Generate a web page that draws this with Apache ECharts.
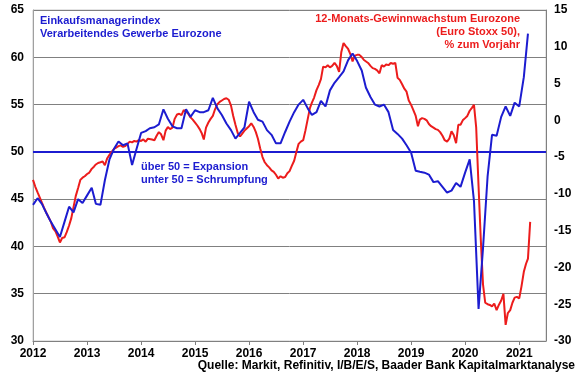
<!DOCTYPE html>
<html>
<head>
<meta charset="utf-8">
<script src="https://cdn.jsdelivr.net/npm/echarts@6/dist/echarts.min.js"></script>
<style>
html,body{margin:0;padding:0;background:#fff;}
#chart{width:580px;height:375px;}
</style>
</head>
<body>
<div id="chart"></div>
<script>
// ---- Data ----
// Eurozone manufacturing PMI, monthly, starting Jan 2012 (left axis)
const pmiStart = [2012, 1];
const pmiValues = [
  44.4,45.1,44.5,43.5,42.6,41.8,41.0,42.6,44.2,43.6,45.0,44.6,
  45.4,46.2,44.5,44.4,47.0,49.2,50.3,51.1,50.7,50.9,48.6,50.3,
  52.0,52.2,52.5,52.6,52.9,54.5,53.5,52.7,52.5,52.5,54.5,53.7,
  54.4,54.2,54.2,54.4,55.7,54.6,53.9,53.0,52.3,51.4,52.0,52.6,
  55.3,54.2,53.4,53.2,52.3,51.8,50.9,50.9,52.1,53.2,54.2,55.0,
  55.5,54.6,53.9,54.2,55.4,54.8,56.5,57.3,57.9,58.5,59.7,60.4,
  59.6,58.6,56.8,55.8,55.0,54.8,55.0,54.2,52.3,51.9,51.4,50.7,
  49.9,48.0,47.9,47.8,47.6,46.8,46.9,46.3,45.7,45.9,46.7,46.3,
  47.8,49.2,44.8,33.4,39.8,47.4,51.8,51.7,53.7,54.8,53.8,55.2,
  54.8,57.9,62.5
];
// 12-month earnings growth Euro Stoxx 50, % y/y, semi-monthly from Jan 2012 (right axis)
const earnStart = [2012, 1];
const earnValues = [
  -8.1,-9.0,-9.8,-10.5,-11.2,-11.9,-12.6,-13.2,-13.8,-14.7,-15.1,-15.8,
  -16.6,-16.0,-15.9,-15.2,-14.3,-13.3,-11.8,-10.3,-9.2,-8.1,-7.8,-7.6,
  -7.3,-7.1,-6.6,-6.3,-6.0,-5.8,-5.7,-5.6,-6.1,-5.2,-4.7,-4.3,
  -3.9,-3.7,-3.5,-3.4,-3.6,-3.5,-3.2,-2.9,-3.0,-2.8,-2.9,-2.7,
  -2.8,-2.6,-2.9,-2.5,-2.4,-2.6,-2.7,-2.1,-1.6,-1.9,-2.7,-1.4,
  -0.9,-1.2,-1.0,0.2,0.8,0.9,0.7,1.4,1.2,0.9,0.4,0.1,
  -0.3,-0.7,-1.2,-1.8,-2.6,-1.0,-0.3,0.2,0.6,1.5,2.2,2.5,
  2.7,2.9,3.0,2.8,2.0,0.6,-0.6,-1.7,-2.2,-1.8,-1.4,-1.1,
  -0.8,-0.4,-0.9,-1.6,-2.5,-3.8,-5.0,-5.7,-6.1,-6.4,-6.8,-7.0,
  -7.4,-7.9,-7.6,-7.8,-7.7,-7.2,-6.9,-6.2,-5.5,-4.3,-3.2,-2.9,
  -2.7,-1.4,0.2,1.7,2.4,3.1,4.1,4.8,5.6,7.3,7.2,7.5,
  7.2,7.4,7.8,7.4,6.6,9.3,10.5,10.1,9.7,9.0,8.0,8.8,
  8.9,8.9,8.6,8.2,8.0,7.8,7.4,7.1,7.0,6.8,6.4,7.5,
  7.3,7.6,7.5,7.8,7.7,7.8,5.8,5.5,4.9,4.3,3.9,2.7,
  2.1,1.4,0.6,-0.8,0.1,0.3,0.2,0.0,-0.5,-0.8,-1.0,-1.2,
  -1.3,-1.6,-2.1,-2.7,-2.9,-2.5,-1.5,-2.0,-3.1,-0.6,-0.6,0.0,
  0.3,0.6,1.3,1.7,2.1,-1.0,-9.0,-16.2,-22.3,-24.8,-25.0,-25.1,
  -25.3,-24.9,-25.8,-25.1,-24.5,-23.6,-27.8,-26.2,-25.8,-24.8,-24.1,-24.0,
  -24.2,-22.6,-20.6,-19.5,-18.8,-13.8
];
const xRange = ['2012-01-01', '2021-07-01'];
const leftTicks = [30, 65, 5];
const rightTicks = [-30, 15, 5];
const thresholdLine = 50;
const pmiTitle = ['Einkaufsmanagerindex', 'Verarbeitendes Gewerbe Eurozone'];
const earnTitle = ['12-Monats-Gewinnwachstum Eurozone', '(Euro Stoxx 50),', '% zum Vorjahr'];
const noteLines = ['über 50 = Expansion', 'unter 50 = Schrumpfung'];
const sourceText = 'Quelle: Markit, Refinitiv, I/B/E/S, Baader Bank Kapitalmarktanalyse';

// ---- Build series data ----
function pad(n){ return (n < 10 ? '0' : '') + n; }
function monthlyDate(start, i){
  const t = (start[0]) * 12 + (start[1] - 1) + i;
  return Math.floor(t / 12) + '-' + pad(t % 12 + 1) + '-01';
}
function halfMonthDate(start, h){
  const t = (start[0]) * 12 + (start[1] - 1) + Math.floor(h / 2);
  return Math.floor(t / 12) + '-' + pad(t % 12 + 1) + (h % 2 ? '-16' : '-01');
}
const pmiData = pmiValues.map((v, i) => [monthlyDate(pmiStart, i), v]);
const earnData = earnValues.map((v, h) => [halfMonthDate(earnStart, h), v]);

const BLUE = '#1c1cd0';
const RED = '#ec1c1c';
const FONT = 'Liberation Sans, Arial, sans-serif';
const YEAR = 365.25 * 24 * 3600 * 1000;

const earnTitleGraphics = earnTitle.map((t, i) => ({
  type: 'text', x: 520, y: 13 + i * 13,
  style: {text: t, fill: RED, font: 'bold 11px ' + FONT, align: 'right', verticalAlign: 'top'}
}));

const chart = echarts.init(document.getElementById('chart'), null, {renderer: 'canvas'});
chart.setOption({
  animation: false,
  backgroundColor: '#fff',
  grid: {left: 33, right: 34, top: 10, bottom: 34, show: true, borderColor: '#c8c8c8', borderWidth: 1},
  xAxis: {
    type: 'time',
    min: xRange[0], max: xRange[1],
    minInterval: YEAR, maxInterval: YEAR,
    axisLine: {show: true, onZero: false, lineStyle: {color: '#808080', width: 1}},
    axisTick: {show: true, inside: false, length: 4, lineStyle: {color: '#808080'}},
    splitLine: {show: false},
    axisLabel: {
      color: '#000', fontFamily: FONT, fontWeight: 'bold', fontSize: 12, margin: 7,
      formatter: v => String(new Date(v).getFullYear()),
      showMaxLabel: false
    }
  },
  yAxis: [{
    type: 'value', position: 'left',
    min: leftTicks[0], max: leftTicks[1], interval: leftTicks[2],
    axisLine: {show: true, lineStyle: {color: '#a0a0a0'}},
    axisTick: {show: false},
    splitLine: {show: true, lineStyle: {color: '#808080', width: 1}},
    axisLabel: {color: '#000', fontFamily: FONT, fontWeight: 'bold', fontSize: 12, margin: 9}
  }, {
    type: 'value', position: 'right',
    min: rightTicks[0], max: rightTicks[1], interval: rightTicks[2],
    axisLine: {show: true, lineStyle: {color: '#808080'}},
    axisTick: {show: false},
    splitLine: {show: false},
    axisLabel: {color: '#000', fontFamily: FONT, fontWeight: 'bold', fontSize: 12, margin: 8}
  }],
  series: [{
    name: 'Gewinnwachstum',
    type: 'line', yAxisIndex: 1,
    data: earnData, showSymbol: false, symbol: 'none',
    lineStyle: {color: RED, width: 2}, z: 3
  }, {
    name: 'PMI',
    type: 'line', yAxisIndex: 0,
    data: pmiData, showSymbol: false, symbol: 'none',
    lineStyle: {color: BLUE, width: 2}, z: 4,
    markLine: {
      silent: true, symbol: 'none', label: {show: false},
      lineStyle: {color: BLUE, width: 2, type: 'solid'},
      data: [{yAxis: thresholdLine}], z: 2
    }
  }],
  graphic: [
    {type: 'text', left: 40, top: 14, style: {text: pmiTitle.join('\n'), fill: BLUE, font: 'bold 11px ' + FONT, lineHeight: 13}},
    ...earnTitleGraphics,
    {type: 'text', left: 141, top: 160, style: {text: noteLines.join('\n'), fill: BLUE, font: 'bold 11px ' + FONT, lineHeight: 13}},
    {type: 'text', x: 575, y: 360, style: {text: sourceText, fill: '#000', font: 'bold 12px ' + FONT, align: 'right', verticalAlign: 'top'}}
  ]
});
</script>
</body>
</html>
